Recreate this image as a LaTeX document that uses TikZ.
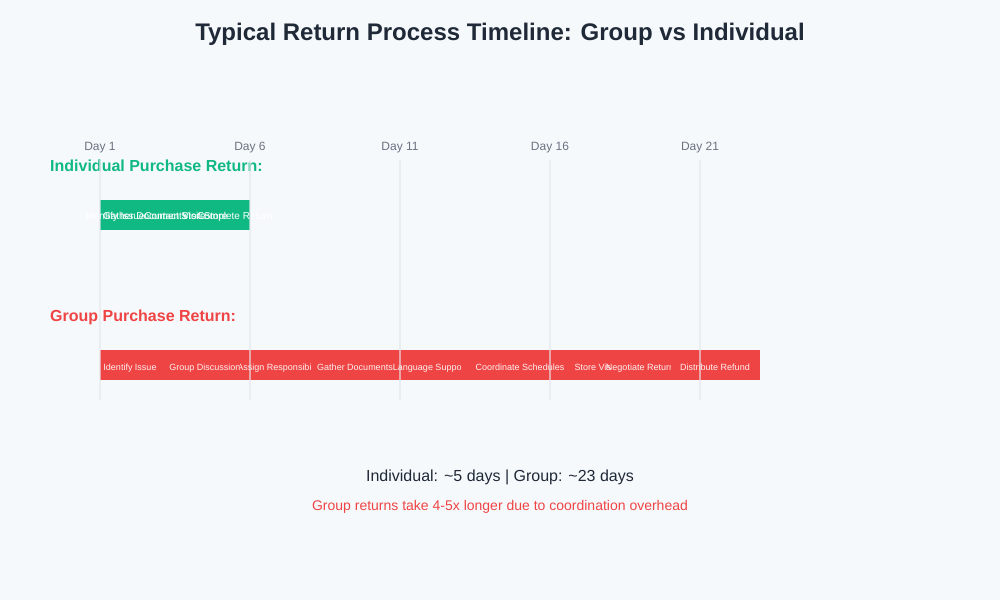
\documentclass[tikz,border=0pt]{standalone}
\usepackage{fontspec}
\setmainfont{Liberation Sans}
\definecolor{bg}{HTML}{F6F9FC}
\definecolor{titlec}{HTML}{1F2937}
\definecolor{dayc}{HTML}{6B7280}
\definecolor{gridc}{HTML}{E5E7EB}
\definecolor{indc}{HTML}{10B981}
\definecolor{grpc}{HTML}{EF4444}
\tikzset{
  daylbl/.style={anchor=base, text=dayc, inner sep=0pt, font=\fontsize{12}{12}\selectfont},
  seclbl/.style={anchor=base west, font=\bfseries\fontsize{16}{16}\selectfont, inner sep=0pt},
  indlbl/.style={anchor=base, text=white, inner sep=0pt, font=\fontsize{10}{10}\selectfont},
  grplbl/.style={anchor=base, text=white, text opacity=0.92, inner sep=0pt, font=\fontsize{9}{9}\selectfont},
  gridline/.style={draw=gridc, line width=2pt, opacity=0.6},
}
\begin{document}
\begin{tikzpicture}[x=1pt,y=-1pt]
\fill[bg] (0,0) rectangle (1000,600);
\useasboundingbox (0,0) rectangle (1000,600);
% title
\node[anchor=base, text=titlec, inner sep=0pt, font=\bfseries\fontsize{24}{24}\selectfont] (title) at (500,40) {Typical Return Process Timeline: Group vs Individual};
% day labels
\foreach \d/\x in {1/100,6/250,11/400,16/550,21/700}{
  \node[daylbl] (day\d) at (\x,150) {Day \d};
}
% section labels
\node[seclbl, text=indc] (indsec) at (50,171) {Individual Purchase Return:};
\node[seclbl, text=grpc] (grpsec) at (50,321) {Group Purchase Return:};
% individual bar
\fill[indc] (100,200) rectangle (250,230);
\node[indlbl] (i1) at (115,219.5) {Identify Issue};
\node[indlbl] (i2) at (145,219.5) {Gather Documents};
\node[indlbl] (i3) at (175,219.5) {Contact Store};
\node[indlbl] (i4) at (205,219.5) {Visit Store};
\node[indlbl] (i5) at (235,219.5) {Complete Return};
% group bar
\fill[grpc] (100,350) rectangle (760,380);
\foreach \a/\b/\t [count=\k] in {100/160/Identify Issue,160/250/Group Discussion,250/310/Assign Responsibility,310/400/Gather Documents,400/460/Language Support,460/580/Coordinate Schedules,580/610/Store Visit,610/670/Negotiate Return,670/760/Distribute Refund}{
  \begin{scope}
    \clip (\a-10,340) rectangle (\b,390);
    \node[grplbl] (g\k) at ({(\a+\b)/2},370) {\t};
  \end{scope}
}
% grid lines
\foreach \x in {100,250,400,550,700}{
  \coordinate (gt\x) at (\x,160);
  \coordinate (gb\x) at (\x,400);
  \draw[gridline] (gt\x) -- (gb\x);
}
% summary
\node[anchor=base, text=titlec, inner sep=0pt, font=\fontsize{16}{16}\selectfont] (sum) at (500,481) {Individual: \textasciitilde5 days | Group: \textasciitilde23 days};
\node[anchor=base, text=grpc, inner sep=0pt, font=\fontsize{14}{14}\selectfont] (note) at (500,510) {Group returns take 4-5x longer due to coordination overhead};
\end{tikzpicture}
\end{document}
